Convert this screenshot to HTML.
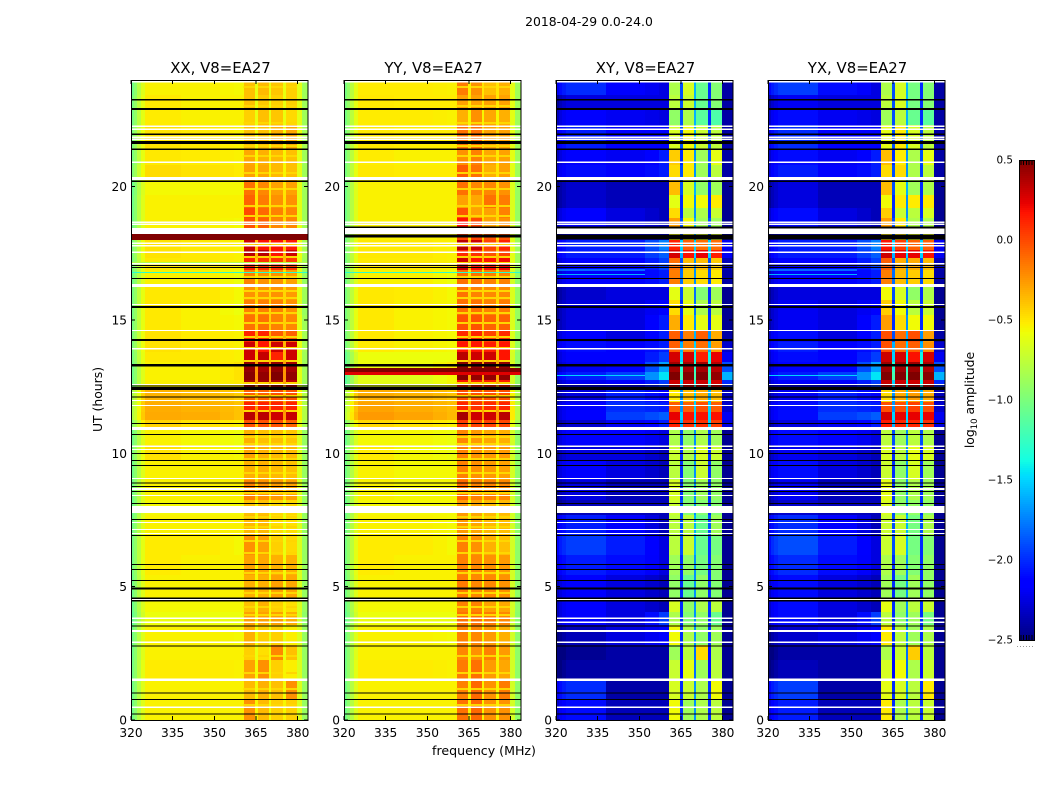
<!DOCTYPE html>
<html>
<head>
<meta charset="utf-8">
<title>2018-04-29 0.0-24.0</title>
<style>
html,body{margin:0;padding:0;background:#fff;}
svg{display:block;font-family:"DejaVu Sans","Liberation Sans",sans-serif;fill:#000;}
</style>
</head>
<body>
<svg id="figure" xmlns="http://www.w3.org/2000/svg" width="1050" height="800" viewBox="0 0 1050 800">
<rect x="0" y="0" width="1050" height="800" fill="#fff"/>
<text x="589" y="26" text-anchor="middle" font-size="12.4">2018-04-29 0.0-24.0</text>
<text x="484" y="755" text-anchor="middle" font-size="12.6">frequency (MHz)</text>
<text transform="translate(102,399.5) rotate(-90)" text-anchor="middle" font-size="12.4">UT (hours)</text>
<text transform="translate(974,400) rotate(-90)" text-anchor="middle" font-size="12.4">log<tspan font-size="8.5" dy="3">10</tspan><tspan dy="-3"> amplitude</tspan></text>
</svg>
<script>
const panelTitles = ["XX, V8=EA27", "YY, V8=EA27", "XY, V8=EA27", "YX, V8=EA27"];
const freqEdges = [320, 321, 322, 323.5, 325, 338, 352, 357, 360.5, 364.6, 365.7, 369.6, 370.4, 374.7, 375.8, 379.7, 381.7, 383.7];
const utEdges = [24, 23.44, 22.88, 22.31, 21.38, 20.81, 20.25, 19.69, 19.2, 18.83, 18.45, 18, 17.63, 17.33, 16.88, 16.31, 15.75, 15.19, 14.63, 14.18, 13.8, 13.43, 13.05, 12.75, 12.38, 11.93, 11.55, 11.25, 10.88, 10.31, 9.75, 9, 8.25, 7.69, 6.94, 6.19, 5.44, 4.5, 4.05, 3.56, 2.81, 2.25, 1.5, 0.75, 0];
const freqTicks = [320, 335, 350, 365, 380];
const utTicks = [0, 5, 10, 15, 20];
const colorbarTicks = [0.5, 0, -0.5, -1, -1.5, -2, -2.5];
const leftTaperCopol = [-0.5, -0.4, -0.25, -0.1];
const rightTaperCopol = -0.25;
const leftTaperCross = [-0.2, -0.1, -0.05, 0];
const rightTaperCross = 0;
const fieldShift = [-0.04, -0.04, -0.05, -0.05];
const bandShift = [-0.08, -0.08, 0.03, 0.03];
const gapShift = [-0.05, -0.05, 0, 0];

/* per row: field-a, field-b, field-c, band1, gap1, band2, gap2, band3, gap3, band4, right-edge */
const rowsXX = [
[-.50,-.50,-.52,-.30,-.55,-.28,-.55,-.32,-.55,-.35,-.62],
[-.47,-.50,-.50,-.30,-.55,-.33,-.55,-.35,-.55,-.35,-.62],
[-.48,-.50,-.50,-.35,-.55,-.30,-.55,-.32,-.55,-.38,-.62],
[-.45,-.47,-.50,-.30,-.52,-.30,-.52,-.25,-.52,-.22,-.60],
[-.47,-.48,-.50,-.22,-.50,-.25,-.50,-.28,-.50,-.30,-.62],
[-.43,-.45,-.48,-.20,-.50,-.22,-.50,-.28,-.50,-.30,-.62],
[-.52,-.52,-.52,-.05,-.45,-.12,-.45,-.20,-.45,-.20,-.62],
[-.50,-.50,-.50,.00,-.45,-.08,-.45,-.15,-.45,-.15,-.62],
[-.50,-.50,-.50,.08,-.40,-.02,-.40,-.10,-.40,-.12,-.62],
[-.50,-.50,-.52,.05,-.42,.00,-.42,-.12,-.42,-.12,-.62],
[.50,.50,.50,.50,.50,.50,.50,.50,.50,.50,.50],
[-.45,-.47,-.50,.30,-.30,.25,-.30,.25,-.30,.22,-.60],
[-.45,-.47,-.50,.35,-.30,.35,-.30,.25,-.30,.30,-.60],
[-.47,-.47,-.50,.20,-.35,.15,-.30,.15,-.30,.12,-.62],
[-.50,-.50,-.55,-.10,-.45,-.15,-.45,-.15,-.45,-.20,-.65],
[-.47,-.47,-.52,-.15,-.40,-.15,-.40,-.15,-.40,-.18,-.62],
[-.47,-.50,-.55,-.10,-.40,-.10,-.40,-.10,-.40,-.15,-.65],
[-.47,-.50,-.52,-.05,-.38,-.05,-.38,-.10,-.38,-.12,-.62],
[-.45,-.48,-.50,.20,-.30,.20,-.30,.02,-.30,.00,-.60],
[-.45,-.47,-.50,.30,-.30,.25,-.30,.30,-.30,.30,-.60],
[-.47,-.47,-.50,.30,-.35,.32,-.35,.20,-.30,.30,-.62],
[-.50,-.50,-.45,.45,-.20,.40,-.20,.45,-.20,.40,-.62],
[-.50,-.50,-.45,.48,-.20,.45,-.20,.50,-.20,.45,-.62],
[-.50,-.50,-.48,.40,-.25,.40,-.25,.40,-.25,.35,-.62],
[-.30,-.32,-.38,.00,-.30,.00,-.30,.05,-.30,.05,-.55],
[-.28,-.30,-.35,.20,-.20,.20,-.20,.20,-.20,.20,-.55],
[-.27,-.28,-.35,.35,-.20,.35,-.20,.30,-.20,.32,-.55],
[-.40,-.45,-.50,.05,-.35,.05,-.35,.05,-.35,.00,-.60],
[-.50,-.52,-.55,-.25,-.50,-.30,-.50,-.30,-.50,-.32,-.65],
[-.45,-.50,-.52,-.20,-.50,-.25,-.50,-.28,-.50,-.28,-.65],
[-.50,-.50,-.50,-.25,-.48,-.25,-.48,-.28,-.48,-.30,-.65],
[-.50,-.50,-.50,-.10,-.40,-.15,-.42,-.18,-.42,-.20,-.65],
[-.52,-.52,-.52,-.30,-.50,-.30,-.50,-.38,-.55,-.38,-.65],
[-.50,-.50,-.50,-.28,-.50,-.28,-.55,-.40,-.55,-.40,-.65],
[-.48,-.48,-.52,-.15,-.50,-.20,-.52,-.35,-.55,-.38,-.65],
[-.48,-.50,-.50,-.20,-.50,-.22,-.52,-.25,-.52,-.25,-.65],
[-.50,-.50,-.50,-.25,-.50,-.25,-.52,-.20,-.52,-.22,-.65],
[-.52,-.52,-.52,-.30,-.52,-.25,-.50,-.35,-.50,-.40,-.65],
[-.55,-.55,-.55,-.20,-.50,-.20,-.52,-.20,-.52,-.25,-.68],
[-.50,-.50,-.52,-.25,-.52,-.35,-.55,-.35,-.55,-.45,-.65],
[-.50,-.50,-.50,-.35,-.55,-.40,-.52,-.12,-.55,-.30,-.65],
[-.48,-.48,-.50,-.20,-.52,-.15,-.52,-.35,-.50,-.45,-.65],
[-.50,-.50,-.50,-.28,-.52,-.25,-.52,-.30,-.52,-.15,-.65],
[-.50,-.50,-.50,-.15,-.50,-.28,-.52,-.35,-.50,-.35,-.65]
];
const rowsYY = [
[-.48,-.48,-.50,-.08,-.48,-.15,-.45,-.30,-.45,-.25,-.62],
[-.47,-.48,-.48,-.20,-.45,-.20,-.45,-.20,-.45,-.20,-.62],
[-.48,-.48,-.50,-.25,-.50,-.15,-.50,-.22,-.50,-.25,-.62],
[-.47,-.48,-.48,-.05,-.40,-.05,-.40,-.20,-.40,-.20,-.62],
[-.48,-.50,-.50,-.15,-.45,-.10,-.45,-.22,-.45,-.20,-.62],
[-.47,-.48,-.48,.02,-.40,-.05,-.45,-.25,-.45,-.20,-.62],
[-.50,-.50,-.50,-.05,-.42,-.12,-.42,-.12,-.42,-.15,-.65],
[-.50,-.50,-.50,-.20,-.42,-.22,-.40,-.05,-.40,-.08,-.65],
[-.50,-.50,-.50,.05,-.40,-.20,-.45,-.20,-.40,-.10,-.65],
[-.50,-.50,-.50,.25,-.35,.08,-.40,-.20,-.40,-.15,-.65],
[-.50,-.50,-.50,.10,-.40,.10,-.40,.05,-.40,.05,-.65],
[-.47,-.47,-.50,.35,-.30,.30,-.30,.10,-.30,.20,-.62],
[-.47,-.47,-.50,.18,-.35,.15,-.35,.05,-.35,.10,-.62],
[-.48,-.48,-.50,.30,-.30,.25,-.30,.25,-.30,.28,-.62],
[-.50,-.50,-.55,-.05,-.45,-.05,-.45,-.10,-.45,-.10,-.68],
[-.47,-.48,-.52,-.05,-.40,-.10,-.40,-.12,-.40,-.12,-.65],
[-.47,-.50,-.52,-.05,-.40,-.05,-.38,-.10,-.40,-.08,-.65],
[-.47,-.50,-.52,.05,-.38,.05,-.38,.00,-.38,.00,-.65],
[-.47,-.50,-.52,.18,-.30,.20,-.32,.10,-.32,.18,-.65],
[-.48,-.50,-.52,.25,-.30,.25,-.30,.22,-.30,.25,-.65],
[-.55,-.55,-.55,.35,-.30,.30,-.30,.30,-.30,.25,-.68],
[-.55,-.55,-.48,.48,-.25,.45,-.25,.48,-.25,.45,-.65],
[-.60,-.60,-.52,.48,-.25,.45,-.25,.45,-.25,.45,-.68],
[-.58,-.58,-.52,.25,-.30,.22,-.30,.22,-.30,.22,-.68],
[-.28,-.30,-.35,.05,-.30,.05,-.30,.05,-.30,.05,-.55],
[-.25,-.28,-.33,.20,-.25,.15,-.25,.18,-.25,.20,-.52],
[-.22,-.25,-.32,.40,-.20,.30,-.20,.30,-.20,.35,-.52],
[-.42,-.45,-.50,.12,-.35,.10,-.35,.10,-.35,.08,-.60],
[-.52,-.52,-.55,-.12,-.48,-.18,-.48,-.22,-.48,-.25,-.68],
[-.48,-.52,-.55,-.10,-.48,-.15,-.48,-.18,-.48,-.18,-.68],
[-.50,-.52,-.52,-.10,-.48,-.15,-.48,-.18,-.48,-.20,-.68],
[-.50,-.52,-.52,-.02,-.40,-.10,-.42,-.10,-.42,-.12,-.68],
[-.52,-.52,-.52,-.18,-.50,-.22,-.50,-.28,-.55,-.28,-.68],
[-.50,-.50,-.52,-.18,-.50,-.22,-.52,-.28,-.55,-.30,-.68],
[-.48,-.48,-.52,-.10,-.50,-.15,-.50,-.25,-.52,-.30,-.68],
[-.48,-.50,-.50,-.10,-.48,-.12,-.50,-.15,-.50,-.18,-.68],
[-.50,-.50,-.50,-.08,-.48,-.12,-.50,-.12,-.50,-.15,-.68],
[-.52,-.52,-.52,-.10,-.50,-.10,-.50,-.20,-.50,-.22,-.68],
[-.55,-.55,-.55,-.05,-.48,-.05,-.50,-.08,-.50,-.12,-.70],
[-.50,-.50,-.52,-.10,-.50,-.12,-.52,-.18,-.52,-.25,-.68],
[-.50,-.50,-.50,-.12,-.50,-.15,-.50,-.10,-.52,-.18,-.68],
[-.48,-.48,-.50,-.08,-.50,-.05,-.50,-.18,-.48,-.22,-.68],
[-.50,-.50,-.50,-.10,-.50,-.02,-.50,-.15,-.50,-.08,-.68],
[-.50,-.50,-.50,-.05,-.48,-.02,-.50,-.15,-.48,-.15,-.68]
];
const rowsXY = [
[-1.95,-2.10,-2.20,-.85,-1.90,-.70,-1.60,-1.10,-2.00,-1.00,-2.40],
[-2.20,-2.20,-2.20,-.80,-1.90,-.75,-1.60,-1.10,-2.00,-1.00,-2.40],
[-2.10,-2.15,-2.20,-.95,-1.90,-.85,-1.60,-1.15,-2.00,-1.20,-2.40],
[-2.00,-2.10,-2.10,-.70,-1.90,-.60,-1.60,-.75,-1.90,-.80,-2.40],
[-2.10,-2.15,-2.00,-.45,-2.00,-.55,-1.70,-.90,-1.90,-.65,-2.40],
[-2.05,-2.10,-2.00,-.50,-1.90,-.55,-1.70,-.90,-1.95,-.80,-2.40],
[-2.25,-2.30,-2.30,-.40,-1.90,-.70,-1.60,-.95,-2.00,-.90,-2.45],
[-2.25,-2.30,-2.30,-.65,-2.00,-.60,-1.70,-.60,-2.00,-.55,-2.45],
[-2.10,-2.20,-2.30,-.50,-2.00,-.80,-1.70,-.85,-2.00,-.75,-2.45],
[-2.10,-2.20,-2.30,-.30,-1.90,-.60,-1.60,-.90,-1.90,-.90,-2.45],
[-2.20,-2.20,-2.20,-.60,-1.90,-.60,-1.60,-.70,-1.90,-.70,-2.40],
[-2.00,-2.00,-1.70,.10,-1.50,-.10,-1.50,-.15,-1.50,-.15,-2.20],
[-2.00,-2.00,-1.80,.25,-1.60,.15,-1.50,.20,-1.50,.10,-2.20],
[-2.10,-2.10,-1.90,-.15,-1.90,-.40,-1.70,-.40,-1.90,-.45,-2.35],
[-2.10,-2.10,-2.00,-.20,-1.80,-.45,-1.70,-.50,-1.90,-.55,-2.40],
[-2.25,-2.20,-2.20,-.65,-1.90,-.75,-1.80,-1.00,-2.00,-.90,-2.45],
[-2.20,-2.20,-2.10,-.50,-2.00,-.65,-1.80,-.85,-2.00,-.80,-2.45],
[-2.20,-2.20,-2.00,-.35,-2.00,-.55,-1.70,-.65,-2.00,-.65,-2.45],
[-2.10,-2.20,-2.00,-.10,-1.90,-.20,-1.60,-.10,-1.70,-.35,-2.40],
[-2.05,-2.10,-2.00,-.10,-1.60,-.20,-1.50,-.15,-1.60,-.30,-2.30],
[-2.10,-2.10,-1.90,.25,-1.50,.25,-1.40,.10,-1.40,.20,-2.20],
[-2.15,-2.10,-1.60,.40,-1.30,.40,-1.30,.40,-1.30,.35,-1.90],
[-2.00,-1.90,-1.40,.50,-1.20,.50,-1.20,.50,-1.20,.45,-1.60],
[-2.15,-2.10,-1.90,.30,-1.50,.30,-1.40,.30,-1.40,.25,-2.00],
[-2.20,-2.00,-2.10,-.55,-1.70,-.40,-1.50,-.35,-1.60,-.40,-2.35],
[-2.10,-1.95,-2.00,-.10,-1.70,-.10,-1.50,-.05,-1.50,-.10,-2.30],
[-2.10,-1.90,-1.80,.20,-1.50,.15,-1.50,.15,-1.50,.15,-2.20],
[-2.25,-2.15,-2.00,.10,-1.60,.05,-1.50,.05,-1.50,.00,-2.25],
[-2.10,-2.10,-2.20,-.85,-1.90,-.95,-1.70,-.85,-1.90,-.90,-2.45],
[-2.20,-2.20,-2.30,-.75,-2.00,-.85,-1.70,-.70,-2.00,-.75,-2.45],
[-2.10,-2.20,-2.30,-.80,-2.00,-1.00,-1.70,-.75,-2.00,-.95,-2.45],
[-2.20,-2.30,-2.30,-.70,-2.00,-1.00,-1.70,-.90,-2.00,-.95,-2.45],
[-2.30,-2.30,-2.30,-.75,-1.90,-1.00,-1.70,-1.00,-2.00,-1.00,-2.45],
[-2.00,-2.10,-2.30,-.80,-1.90,-.80,-1.60,-1.10,-1.90,-.90,-2.45],
[-1.90,-2.00,-2.20,-.80,-1.90,-.75,-1.60,-1.10,-2.00,-1.05,-2.45],
[-2.00,-2.05,-2.20,-.90,-2.00,-.95,-1.70,-1.05,-2.00,-1.00,-2.45],
[-2.10,-2.20,-2.30,-.95,-2.00,-1.10,-1.70,-.95,-2.00,-1.00,-2.45],
[-2.10,-2.20,-2.30,-.70,-2.00,-.95,-1.70,-.85,-2.00,-.80,-2.45],
[-2.10,-2.20,-1.90,-.85,-2.00,-1.00,-1.70,-.95,-2.00,-1.10,-2.45],
[-2.30,-2.20,-2.10,-.60,-2.00,-.85,-1.70,-.95,-2.00,-.90,-2.45],
[-2.40,-2.35,-2.35,-.90,-2.10,-.80,-1.80,-.50,-2.10,-.85,-2.45],
[-2.35,-2.35,-2.35,-.75,-2.10,-.65,-1.80,-.90,-2.10,-.80,-2.45],
[-1.95,-2.35,-2.35,-.70,-2.00,-.75,-1.70,-.85,-2.00,-.60,-2.45],
[-2.05,-2.30,-2.30,-.60,-2.00,-.90,-1.70,-.85,-2.00,-.80,-2.45]
];
const rowsYX = [
[-1.90,-2.05,-2.20,-.85,-1.90,-.70,-1.60,-1.05,-2.00,-1.00,-2.40],
[-2.15,-2.20,-2.20,-.80,-1.90,-.70,-1.60,-1.05,-2.00,-1.00,-2.40],
[-2.05,-2.15,-2.20,-.90,-1.90,-.80,-1.60,-1.10,-2.00,-1.15,-2.40],
[-1.95,-2.10,-2.10,-.65,-1.90,-.55,-1.60,-.70,-1.90,-.80,-2.40],
[-2.05,-2.15,-2.00,-.40,-2.00,-.55,-1.70,-.85,-1.90,-.65,-2.40],
[-2.00,-2.10,-2.00,-.50,-1.90,-.50,-1.70,-.85,-1.95,-.80,-2.40],
[-2.20,-2.30,-2.30,-.40,-1.90,-.65,-1.60,-.90,-2.00,-.85,-2.45],
[-2.20,-2.30,-2.30,-.60,-2.00,-.55,-1.70,-.55,-2.00,-.55,-2.45],
[-2.05,-2.20,-2.30,-.45,-2.00,-.75,-1.70,-.80,-2.00,-.70,-2.45],
[-2.05,-2.20,-2.30,-.30,-1.90,-.55,-1.60,-.85,-1.90,-.85,-2.45],
[-2.20,-2.20,-2.20,-.55,-1.90,-.55,-1.60,-.65,-1.90,-.65,-2.40],
[-2.00,-2.00,-1.70,.15,-1.50,.00,-1.50,-.10,-1.50,-.10,-2.20],
[-2.00,-2.00,-1.80,.30,-1.60,.20,-1.50,.20,-1.50,.15,-2.20],
[-2.10,-2.10,-1.90,-.10,-1.90,-.35,-1.70,-.35,-1.90,-.40,-2.35],
[-2.10,-2.10,-2.00,-.20,-1.80,-.40,-1.70,-.45,-1.90,-.50,-2.40],
[-2.20,-2.20,-2.20,-.60,-1.90,-.70,-1.80,-.95,-2.00,-.85,-2.45],
[-2.15,-2.20,-2.10,-.45,-2.00,-.60,-1.80,-.80,-2.00,-.75,-2.45],
[-2.15,-2.20,-2.00,-.30,-2.00,-.50,-1.70,-.60,-2.00,-.60,-2.45],
[-2.05,-2.20,-2.00,-.05,-1.90,-.15,-1.60,-.05,-1.70,-.30,-2.40],
[-2.00,-2.10,-2.00,-.05,-1.60,-.15,-1.50,-.10,-1.60,-.25,-2.30],
[-2.05,-2.10,-1.90,.30,-1.50,.25,-1.40,.15,-1.40,.25,-2.20],
[-2.10,-2.10,-1.60,.42,-1.30,.42,-1.30,.42,-1.30,.38,-1.90],
[-2.00,-1.90,-1.40,.50,-1.20,.50,-1.20,.50,-1.20,.48,-1.60],
[-2.10,-2.10,-1.90,.32,-1.50,.30,-1.40,.30,-1.40,.28,-2.00],
[-2.15,-2.00,-2.10,-.50,-1.70,-.35,-1.50,-.30,-1.60,-.35,-2.35],
[-2.05,-1.95,-2.00,-.05,-1.70,-.05,-1.50,.00,-1.50,-.05,-2.30],
[-2.05,-1.90,-1.80,.25,-1.50,.20,-1.50,.20,-1.50,.20,-2.20],
[-2.20,-2.15,-2.00,.12,-1.60,.08,-1.50,.08,-1.50,.05,-2.25],
[-2.05,-2.10,-2.20,-.80,-1.90,-.90,-1.70,-.80,-1.90,-.85,-2.45],
[-2.15,-2.20,-2.30,-.70,-2.00,-.80,-1.70,-.65,-2.00,-.70,-2.45],
[-2.05,-2.20,-2.30,-.75,-2.00,-.95,-1.70,-.70,-2.00,-.90,-2.45],
[-2.15,-2.30,-2.30,-.65,-2.00,-.95,-1.70,-.85,-2.00,-.90,-2.45],
[-2.25,-2.30,-2.30,-.70,-1.90,-.95,-1.70,-.95,-2.00,-.95,-2.45],
[-1.95,-2.10,-2.30,-.75,-1.90,-.75,-1.60,-1.05,-1.90,-.85,-2.45],
[-1.85,-2.00,-2.20,-.75,-1.90,-.70,-1.60,-1.05,-2.00,-1.00,-2.45],
[-1.95,-2.05,-2.20,-.85,-2.00,-.90,-1.70,-1.00,-2.00,-.95,-2.45],
[-2.05,-2.20,-2.30,-.90,-2.00,-1.05,-1.70,-.90,-2.00,-.95,-2.45],
[-2.05,-2.20,-2.30,-.65,-2.00,-.90,-1.70,-.80,-2.00,-.75,-2.45],
[-2.05,-2.20,-1.90,-.80,-2.00,-.95,-1.70,-.90,-2.00,-1.05,-2.45],
[-2.25,-2.20,-2.10,-.55,-2.00,-.80,-1.70,-.90,-2.00,-.85,-2.45],
[-2.35,-2.35,-2.35,-.85,-2.10,-.75,-1.80,-.45,-2.10,-.80,-2.45],
[-2.30,-2.35,-2.35,-.70,-2.10,-.60,-1.80,-.85,-2.10,-.75,-2.45],
[-1.90,-2.35,-2.35,-.65,-2.00,-.70,-1.70,-.80,-2.00,-.55,-2.45],
[-2.00,-2.30,-2.30,-.55,-2.00,-.85,-1.70,-.80,-2.00,-.75,-2.45]
];

/* single-integration lines: start UT, end UT, log amplitude */
const linesXX = [[16.8,16.76,-1.3],[17.18,17.14,-.8]];
const linesYY = [[16.8,16.76,-1.3],[13.2,13.05,.5],[13.05,12.94,.25]];
const linesXY = [[12.94,12.9,-1.5],[16.9,16.86,-1.5],[16.72,16.68,-1.6]];
const linesYX = [[12.94,12.9,-1.5],[16.9,16.86,-1.5],[16.72,16.68,-1.6]];

/* paler integrations inside the parallel-hand bands (UT) */
const bandStripeTimes = [23.78,23.06,22.43,21.56,21.19,20.55,19.95,19.31,18.94,17.89,17.4,17.18,16.65,16.13,15.86,15.3,14.93,14.4,13.99,13.5,12.68,12.19,11.63,10.65,10.39,9.83,9.3,8.55,7.65,7.28,6.75,6.3,5.55,4.8,4.28,3.98,2.44,1.8,1.2,0.6];
const bandStripeValue = -0.45;

/* flagged intervals: [start UT, end UT] */
const whiteFlags = [[23.97,23.91],[22.29,22.24],[22.18,22.13],[21.88,21.83],[21.81,21.75],[20.94,20.89],[20.36,20.25],[18.69,18.64],[18.62,18.56],[18.45,18.23],[17.91,17.85],[17.81,17.76],[17.57,17.51],[17.14,17.08],[16.35,16.24],[15.6,15.56],[14.63,14.59],[13.95,13.89],[12.6,12.56],[12.3,12.26],[12.0,11.96],[11.81,11.78],[10.99,10.88],[10.29,10.24],[10.16,10.13],[9.08,9.04],[8.7,8.63],[8.44,8.4],[8.03,7.76],[7.43,7.39],[7.16,7.13],[7.01,6.98],[4.54,4.5],[3.84,3.79],[3.69,3.64],[3.38,3.3],[2.94,2.89],[1.56,1.46],[0.51,0.45]];
const blackFlags = [[23.29,23.23],[22.95,22.88],[21.99,21.94],[21.71,21.6],[21.43,21.38],[20.23,20.18],[17.06,17.03],[16.99,16.95],[16.58,16.54],[15.53,15.45],[14.29,14.21],[13.35,13.26],[12.54,12.51],[12.49,12.38],[12.13,12.09],[11.14,11.1],[10.73,10.69],[10.01,9.98],[9.75,9.71],[9.56,9.53],[8.91,8.87],[8.78,8.74],[8.59,8.55],[8.14,8.1],[7.54,7.5],[6.94,6.9],[5.85,5.81],[5.66,5.63],[5.25,5.21],[4.97,4.89],[4.59,4.54],[4.5,4.44],[3.54,3.51],[2.79,2.76],[1.03,0.99],[0.79,0.75],[0.24,0.21]];
const blackFlagsYY = [[18.5,18.45],[18.21,18.1]];
const blackFlagsCross = [[18.5,18.44],[18.21,18.02]];

const NS = "http://www.w3.org/2000/svg";
const fig = document.getElementById("figure");
const panelLefts = [131, 344, 556, 768];
const panelWidth = 177, plotTop = 80, plotBottom = 720;
const bandRanges = [[360.5,364.6],[365.7,369.6],[370.4,374.7],[375.8,379.7]];

function xScale(freq, left) { return left + (freq - 320) * panelWidth / 63.7; }
function yScale(ut) { return plotBottom - ut * (plotBottom - plotTop) / 24; }
function ramp(t, pts) {
  for (let i = 1; i < pts.length; i++) {
    if (t <= pts[i][0]) {
      const f = (t - pts[i-1][0]) / (pts[i][0] - pts[i-1][0]);
      return pts[i-1][1] + f * (pts[i][1] - pts[i-1][1]);
    }
  }
  return pts[pts.length-1][1];
}
function jet(v) {
  const t = Math.max(0, Math.min(1, (v + 2.5) / 3));
  const r = ramp(t, [[0,0],[.35,0],[.66,1],[.89,1],[1,.5]]);
  const g = ramp(t, [[0,0],[.125,0],[.375,1],[.64,1],[.91,0],[1,0]]);
  const b = ramp(t, [[0,.5],[.11,1],[.34,1],[.65,0],[1,0]]);
  return "rgb(" + Math.round(r*255) + "," + Math.round(g*255) + "," + Math.round(b*255) + ")";
}
function make(tag, attrs, parent) {
  const el = document.createElementNS(NS, tag);
  for (const k in attrs) el.setAttribute(k, attrs[k]);
  parent.appendChild(el);
  return el;
}
function cellValue(row, col, taperL, taperR, p) {
  const fs = fieldShift[p], bs = bandShift[p], gs = gapShift[p];
  if (row[0] > 0.4) return row[0];
  if (col < 4) return row[0] + taperL[col] + fs;
  if (col === 4) return row[0] + fs;
  if (col === 5) return row[1] + fs;
  if (col === 6) return (row[1] + row[2]) / 2 + fs;
  if (col === 7) return row[2] + fs;
  if (col === 8 || col === 10 || col === 12 || col === 14) {
    const v = row[3 + (col - 8)];
    return v + (v < 0.3 ? bs : 0);
  }
  if (col === 9 || col === 11 || col === 13) return row[3 + (col - 8)] + gs;
  if (col === 15) return row[10];
  return row[10] + taperR;
}

const panelRows = [rowsXX, rowsYY, rowsXY, rowsYX];
const panelLines = [linesXX, linesYY, linesXY, linesYX];
const panelExtraBlack = [[], blackFlagsYY, blackFlagsCross, blackFlagsCross];

panelTitles.forEach(function (title, p) {
  const left = panelLefts[p];
  const copol = p < 2;
  const taperL = copol ? leftTaperCopol : leftTaperCross;
  const taperR = copol ? rightTaperCopol : rightTaperCross;
  const g = make("g", {"shape-rendering": "crispEdges"}, fig);
  
  

  panelRows[p].forEach(function (row, r) {
    for (let c = 0; c < freqEdges.length - 1; c++) {
      const x0 = Math.round(xScale(freqEdges[c], left));
      const x1 = Math.round(xScale(freqEdges[c + 1], left));
      const y0 = Math.round(yScale(utEdges[r]));
      const y1 = Math.round(yScale(utEdges[r + 1]));
      const cell = make("rect", {x: x0, y: y0, width: x1 - x0, height: y1 - y0, fill: jet(cellValue(row, c, taperL, taperR, p))}, g);
      
      
    }
  });

  if (copol) {
    bandStripeTimes.forEach(function (u) {
      bandRanges.forEach(function (b) {
        const sx = xScale(b[0], left);
        const stripe = make("rect", {x: sx, y: yScale(u), width: xScale(b[1], left) - sx, height: 2, fill: jet(bandStripeValue)}, g);
        
        
      });
    });
  }

  panelLines[p].forEach(function (ln) {
    const xEnd = copol ? left + panelWidth : xScale(352, left);
    const mark = make("rect", {x: left, y: yScale(ln[0]), width: xEnd - left, height: yScale(ln[1]) - yScale(ln[0]), fill: jet(ln[2])}, g);
    
    
  });

  whiteFlags.forEach(function (fl) {
    const mark = make("rect", {x: left, y: yScale(fl[0]), width: panelWidth, height: Math.max(1, yScale(fl[1]) - yScale(fl[0])), fill: "#fff"}, g);
    
    
  });
  blackFlags.concat(panelExtraBlack[p]).forEach(function (fl) {
    const mark = make("rect", {x: left, y: yScale(fl[0]), width: panelWidth, height: Math.max(1, yScale(fl[1]) - yScale(fl[0])), fill: "#000"}, g);
    
    
  });

  const frame = make("rect", {x: left + 0.5, y: plotTop + 0.5, width: panelWidth - 0.5, height: plotBottom - plotTop, fill: "none", stroke: "#000", "stroke-width": 1}, g);
  
  

  freqTicks.forEach(function (f) {
    const x = xScale(f, left);
    const up = make("line", {x1: x, x2: x, y1: plotBottom, y2: plotBottom - 4, stroke: "#000"}, g);
    
    
    const down = make("line", {x1: x, x2: x, y1: plotTop, y2: plotTop + 4, stroke: "#000"}, g);
    
    
    const label = make("text", {x: x, y: plotBottom + 17, "text-anchor": "middle", "font-size": 12.2}, fig);
    label.textContent = String(f);
    
    
  });

  utTicks.forEach(function (u) {
    const y = yScale(u);
    const a = make("line", {x1: left, x2: left + 4, y1: y, y2: y, stroke: "#000"}, g);
    
    
    const b = make("line", {x1: left + panelWidth, x2: left + panelWidth - 4, y1: y, y2: y, stroke: "#000"}, g);
    
    
    const label = make("text", {x: left - 4, y: y + 4.5, "text-anchor": "end", "font-size": 12.2}, fig);
    label.textContent = String(u);
    
    
  });

  const t = make("text", {x: left + panelWidth / 2 + 1, y: 73, "text-anchor": "middle", "font-size": 14.9}, fig);
  t.textContent = title;
  
  
});

/* colorbar */
const cbLeft = 1019, cbWidth = 15, cbTop = 160, cbBottom = 640;
function cbScale(v) { return cbBottom - (v + 2.5) * (cbBottom - cbTop) / 3; }
const cb = make("g", {"shape-rendering": "crispEdges"}, fig);


for (let y = cbTop; y < cbBottom; y += 2) {
  const v = 0.5 - (y + 1 - cbTop) * 3 / (cbBottom - cbTop);
  const s = make("rect", {x: cbLeft, y: y, width: cbWidth, height: 2, fill: jet(v)}, cb);
  
  
}
const cbFrame = make("rect", {x: cbLeft + 0.5, y: cbTop + 0.5, width: cbWidth, height: cbBottom - cbTop, fill: "none", stroke: "#000"}, cb);


for (let i = 0; i < 5; i++) {
  const tx = cbLeft + 2 + i * 2.7;
  const tt = make("line", {x1: tx, x2: tx, y1: cbTop, y2: cbTop + 5, stroke: "#000"}, cb);
  
  
  const tb = make("line", {x1: tx, x2: tx, y1: cbBottom, y2: cbBottom - 5, stroke: "#000"}, cb);
  
  
}
const dots = make("line", {x1: cbLeft - 2, x2: cbLeft + cbWidth, y1: 646.5, y2: 646.5, stroke: "#999", "stroke-dasharray": "1 2"}, cb);


colorbarTicks.forEach(function (v) {
  const label = make("text", {x: 1013, y: cbScale(v) + 3.5, "text-anchor": "end", "font-size": 10.4}, fig);
  label.textContent = (v < 0 ? "\u2212" : "") + Math.abs(v).toFixed(1);
  
  
});
</script>
</body>
</html>
